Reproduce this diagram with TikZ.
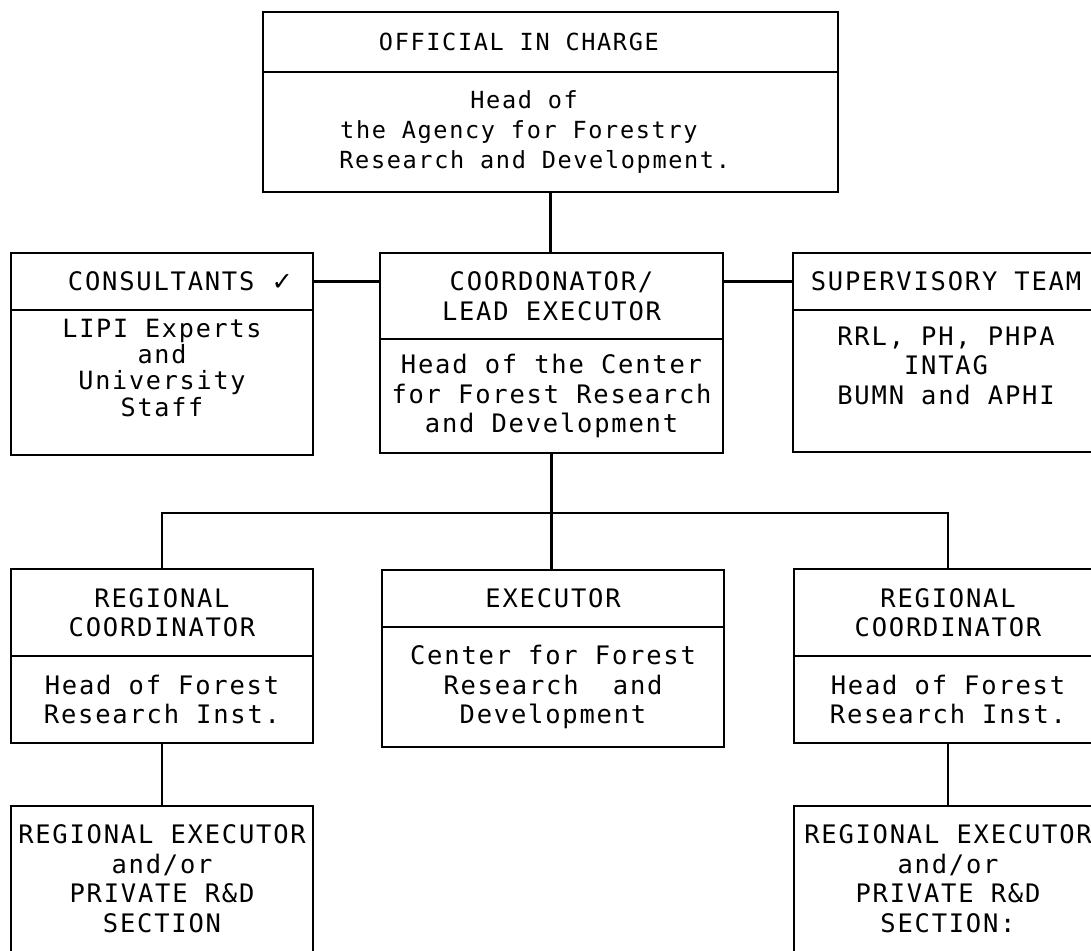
\documentclass[tikz,border=0pt]{standalone}
\usepackage{fontspec}
\newfontfamily\plotfont[LetterSpace=7]{DejaVu Sans Mono}
\newfontfamily\tickfont{DejaVu Sans}
\usetikzlibrary{positioning}

\tikzset{
  wd/.style={minimum width=#1*0.02cm},
  ht/.style={minimum height=#1*0.02cm},
  part/.style={draw, line width=1.3pt, inner sep=0pt, outer sep=0pt, align=center,
    font=\plotfont\fontsize{14.5}{16.8}\selectfont},
  toppart/.style={part, font=\plotfont\fontsize{13.4}{17}\selectfont},
  tightpart/.style={part, font=\plotfont\fontsize{14.3}{15}\selectfont},
}

\begin{document}
\begin{tikzpicture}[x=0.02cm, y=-0.02cm, line width=1.3pt]
\useasboundingbox (0,0) rectangle (1091,950);
\clip (0,0) rectangle (1091,950);
\node [toppart, wd=575, ht=60, anchor=north west] (offhead) at (263,12) {OFFICIAL IN CHARGE\kern36pt};
\node [toppart, wd=575, ht=120, below=0pt of offhead] (offbody) {Head of\kern30pt\\the Agency for Forestry\kern36pt\\Research and Development.\kern18pt};
\node [part, wd=302, ht=57, anchor=north west] (conshead) at (11,253) {\hspace*{21pt}CONSULTANTS {\tickfont ✓}};
\node [tightpart, wd=302, ht=145, below=0pt of conshead] (consbody) {LIPI Experts\\and\\University\\Staff\\[2pt]\mbox{}};
\node [part, wd=343, ht=86, anchor=north west] (coordhead) at (380,253) {COORDONATOR/\\LEAD EXECUTOR};
\node [part, wd=343, ht=114, below=0pt of coordhead] (coordbody) {Head of the Center\\for Forest Research\\and Development};
\node [part, wd=306, ht=57, anchor=north west] (suphead) at (793,253) {SUPERVISORY TEAM};
\node [part, wd=306, ht=142, below=0pt of suphead] (supbody) {RRL, PH, PHPA\\INTAG\\BUMN and APHI\\[1pt]\mbox{}};
\node [part, wd=302, ht=87, anchor=north west] (reglhead) at (11,569) {REGIONAL\\COORDINATOR};
\node [part, wd=302, ht=87, below=0pt of reglhead] (reglbody) {Head of Forest\\Research Inst.};
\node [part, wd=342, ht=57, anchor=north west] (exechead) at (382,570) {EXECUTOR};
\node [part, wd=342, ht=120, below=0pt of exechead] (execbody) {Center for Forest\\Research~ and\\Development};
\node [part, wd=308, ht=87, anchor=north west] (regrhead) at (794,569) {REGIONAL\\COORDINATOR};
\node [part, wd=308, ht=87, below=0pt of regrhead] (regrbody) {Head of Forest\\Research Inst.};
\node [part, wd=302, ht=190, anchor=north west] (loclexec) at (11,806) {REGIONAL EXECUTOR\\and/or\\PRIVATE R\&D\\SECTION\\[9pt]\mbox{}};
\node [part, wd=308, ht=190, anchor=north west] (locrexec) at (794,806) {REGIONAL EXECUTOR\\and/or\\PRIVATE R\&D\\SECTION:\\[9pt]\mbox{}};
\draw (offbody.south) -- (offbody.south |- coordhead.north);
\draw (conshead.east) -- (conshead.east -| coordhead.west);
\draw (suphead.west) -- (suphead.west -| coordhead.east);
\draw (coordbody.south) -- (coordbody.south |- exechead.north);
\draw (reglhead.north) -- ++(0,-56) -| (regrhead.north);
\draw (reglbody.south) -- (loclexec.north);
\draw (regrbody.south) -- (locrexec.north);
\end{tikzpicture}
\end{document}
